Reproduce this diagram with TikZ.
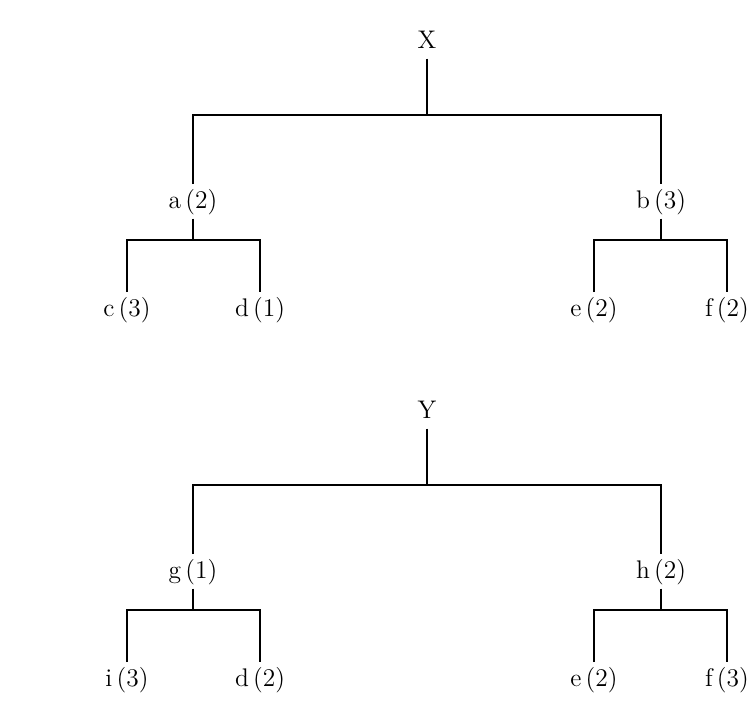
\documentclass[tikz,border=0pt]{standalone}
\usepackage{fontspec}
\usepackage{tikz}

\begin{document}
\begin{tikzpicture}[x=0.02cm,y=-0.02cm,line width=1.1pt,
        lbl/.style={font=\fontsize{14.5}{17}\selectfont,text height=1em,text depth=0.25em,inner sep=3pt,anchor=base}]
        \useasboundingbox (0,0) rectangle (750,720);

        \node[lbl] (X) at (427,48) {X};
        \node[lbl] (a) at (193,208) {a\,(2)}; \node[lbl] (b) at (661,208) {b\,(3)};
        \node[lbl] (c) at (127,316) {c\,(3)}; \node[lbl] (d) at (260,316) {d\,(1)};
        \node[lbl] (e) at (594,316) {e\,(2)}; \node[lbl] (f) at (727,316) {f\,(2)};
        \draw (X.south) -- ++(0,56.5) coordinate (Xm); \draw (a.north) |- (Xm) -| (b.north);
        \draw (a.south) -- ++(0,21) coordinate (am); \draw (c.north) |- (am) -| (d.north);
        \draw (b.south) -- ++(0,21) coordinate (bm); \draw (e.north) |- (bm) -| (f.north);

        \node[lbl] (Y) at (427,418) {Y};
        \node[lbl] (g) at (193,578) {g\,(1)}; \node[lbl] (h) at (661,578) {h\,(2)};
        \node[lbl] (i) at (127,686) {i\,(3)}; \node[lbl] (dd) at (260,686) {d\,(2)};
        \node[lbl] (ee) at (594,686) {e\,(2)}; \node[lbl] (ff) at (727,686) {f\,(3)};
        \draw (Y.south) -- ++(0,56.5) coordinate (Ym); \draw (g.north) |- (Ym) -| (h.north);
        \draw (g.south) -- ++(0,21) coordinate (gm); \draw (i.north) |- (gm) -| (dd.north);
        \draw (h.south) -- ++(0,21) coordinate (hm); \draw (ee.north) |- (hm) -| (ff.north);
    \end{tikzpicture}
\end{document}
